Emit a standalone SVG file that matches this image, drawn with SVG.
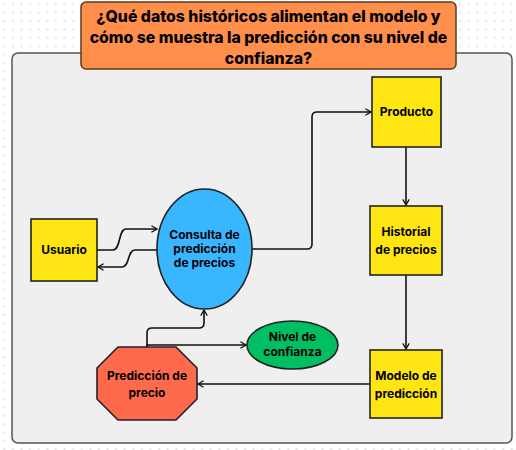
<svg xmlns="http://www.w3.org/2000/svg" width="516" height="450" viewBox="0 0 516 450">
<defs>
<pattern id="dots" x="0" y="0" width="8.6" height="8.4" patternUnits="userSpaceOnUse">
<path d="M4.3,2.7 V5.7 M2.8,4.2 H5.8" stroke="#e4e4e4" stroke-width="0.8"/>
</pattern>
<marker id="arr" viewBox="0 0 10 10" refX="9" refY="5" markerWidth="8" markerHeight="8" markerUnits="userSpaceOnUse" orient="auto">
<path d="M2,1 L9,5 L2,9" fill="none" stroke="#111" stroke-width="1.6"/>
</marker>
<style>
.node{stroke:#222;stroke-width:1.6}
.lbl{font-family:Inter,"Liberation Sans",sans-serif;font-weight:700;font-size:12px;fill:#000;text-anchor:middle}
.ttl{font-family:Inter,"Liberation Sans",sans-serif;font-weight:800;font-size:15.8px;fill:#000;text-anchor:middle}
.edge{fill:none;stroke:#111;stroke-width:1.6;marker-end:url(#arr)}
</style>
</defs>
<rect width="516" height="450" fill="#ffffff"/>
<rect width="516" height="450" fill="url(#dots)"/>
<rect x="12" y="53" width="500" height="390" rx="6" fill="#efefef" stroke="#555" stroke-width="1.5"/>
<g id="title">
<rect x="81" y="2" width="375" height="67" rx="5" fill="#ff8f4a" stroke="#5a3b22" stroke-width="1.5"/>
<text class="ttl" x="268.5" y="21.5">¿Qué datos históricos alimentan el modelo y</text>
<text class="ttl" x="268.5" y="42.5">cómo se muestra la predicción con su nivel de</text>
<text class="ttl" x="268.5" y="63.5">confianza?</text>
</g>
<g id="connectors">
<path class="edge" d="M97,250 H113 C121,250 118,229 126,229 H157"/>
<path class="edge" d="M157,250 H135 C127,250 130,267 122,267 H98"/>
<path class="edge" d="M252,249 H307 Q312,249 312,244 V117 Q312,112 317,112 H371"/>
<path class="edge" d="M406,147 V205"/>
<path class="edge" d="M406,275 V349"/>
<path class="edge" d="M370,384 H198"/>
<path class="edge" d="M147,347 V333 Q147,328 152,328 H199 Q204,328 204,323 V310"/>
<path class="edge" d="M147,347 V345 H246"/>
</g>
<g id="usuario">
<rect class="node" x="31" y="219" width="66" height="62" fill="#ffe512"/>
<text class="lbl" x="64" y="254">Usuario</text>
</g>
<g id="consulta">
<ellipse class="node" cx="204.5" cy="249" rx="47.5" ry="60" fill="#38b6ff"/>
<text class="lbl" x="204.5" y="239">Consulta de</text>
<text class="lbl" x="204.5" y="253">predicción</text>
<text class="lbl" x="204.5" y="267">de precios</text>
</g>
<g id="producto">
<rect class="node" x="372" y="77" width="69" height="70" fill="#ffe512"/>
<text class="lbl" x="406.5" y="116">Producto</text>
</g>
<g id="historial">
<rect class="node" x="370" y="206" width="72" height="69" fill="#ffe512"/>
<text class="lbl" x="406" y="236">Historial</text>
<text class="lbl" x="406" y="254">de precios</text>
</g>
<g id="modelo">
<rect class="node" x="370" y="350" width="72" height="68" fill="#ffe512"/>
<text class="lbl" x="406" y="380">Modelo de</text>
<text class="lbl" x="406" y="398">predicción</text>
</g>
<g id="prediccion">
<polygon class="node" points="118,347 176,347 197,368 197,399 176,420 118,420 97,399 97,368" fill="#ff6a4d"/>
<text class="lbl" x="147" y="380">Predicción de</text>
<text class="lbl" x="147" y="397">precio</text>
</g>
<g id="nivel">
<ellipse class="node" cx="292.5" cy="345" rx="45.5" ry="24" fill="#00bf63"/>
<text class="lbl" x="292.5" y="341">Nivel de</text>
<text class="lbl" x="292.5" y="356">confianza</text>
</g>
</svg>
